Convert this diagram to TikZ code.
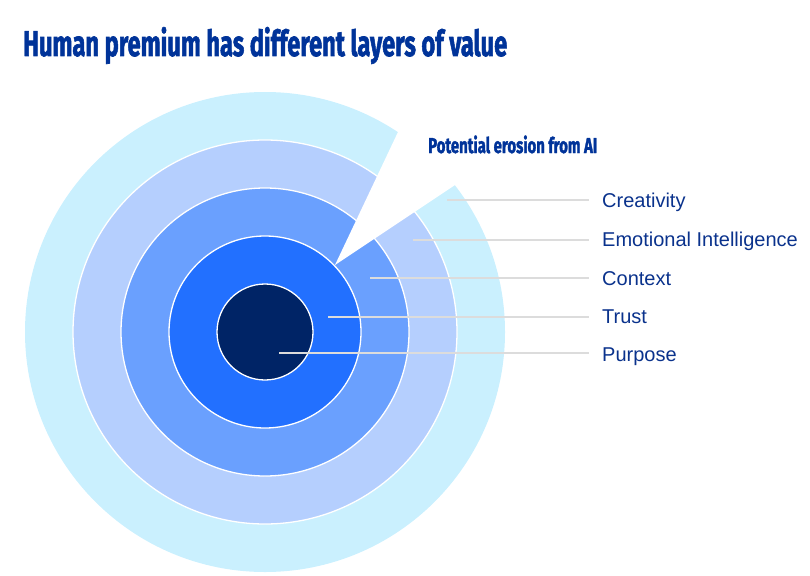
\documentclass[tikz,border=0pt]{standalone}
\usepackage{fontspec}
\usepackage{graphicx}
\setmainfont{Liberation Sans}
\newfontfamily\headfont{Fira Sans}[BoldFeatures={FakeBold=2}]
\definecolor{ringA}{RGB}{202,240,254}
\definecolor{ringB}{RGB}{181,207,254}
\definecolor{ringC}{RGB}{106,160,254}
\definecolor{ringD}{RGB}{34,112,255}
\definecolor{ringE}{RGB}{0,36,102}
\definecolor{titleblue}{RGB}{0,51,153}
\definecolor{lblblue}{RGB}{10,50,140}
\definecolor{leader}{RGB}{220,220,220}
\tikzset{
  ring/.style={circle, inner sep=0pt, outer sep=0pt, draw=white, line width=1.3pt, minimum size=#1},
  lbl/.style={anchor=base west, inner sep=0pt, text=lblblue, font=\fontsize{20}{24}\selectfont},
  leaderline/.style={draw=leader, line width=2pt},
  head/.style={anchor=base west, inner sep=0pt, text=titleblue}
}
\begin{document}
\begin{tikzpicture}[x=1pt,y=-1pt]
\useasboundingbox (0,0) rectangle (810,575);
\coordinate (c) at (265,332);
% rings
\node[ring=480pt, fill=ringA, draw=none] (r1) at (c) {};
\node[ring=384pt, fill=ringB] (r2) at (c) {};
\node[ring=288pt, fill=ringC] (r3) at (c) {};
% wedge of erosion
\coordinate (apex) at (335,265);
\coordinate (wl) at (461,-1);
\coordinate (wr) at (575,105);
\fill[white] (apex) -- (wl) -- (wr) -- cycle;
\node[ring=192pt, fill=ringD] (r4) at (c) {};
\node[ring=96pt, fill=ringE] (r5) at (c) {};
% title
\node[head] (title) at (23,56) {\resizebox{484pt}{29pt}{\headfont\bfseries Human premium has different layers of value}};
\node[head] (erosion) at (428,153) {\resizebox{169pt}{17.5pt}{\headfont\bfseries Potential erosion from AI}};
% leader lines
\coordinate (s1) at (447,200); \coordinate (e1) at (589,200);
\coordinate (s2) at (413,240); \coordinate (e2) at (589,240);
\coordinate (s3) at (370,278); \coordinate (e3) at (589,278);
\coordinate (s4) at (328,317); \coordinate (e4) at (589,317);
\coordinate (s5) at (279,353); \coordinate (e5) at (589,353);
\draw[leaderline] (s1) -- (e1);
\draw[leaderline] (s2) -- (e2);
\draw[leaderline] (s3) -- (e3);
\draw[leaderline] (s4) -- (e4);
\draw[leaderline] (s5) -- (e5);
% labels
\node[lbl] (l1) at (602,207) {Creativity};
\node[lbl] (l2) at (602,246) {Emotional Intelligence};
\node[lbl] (l3) at (602,285) {Context};
\node[lbl] (l4) at (602,323) {Trust};
\node[lbl] (l5) at (602,361) {Purpose};
\end{tikzpicture}
\end{document}
